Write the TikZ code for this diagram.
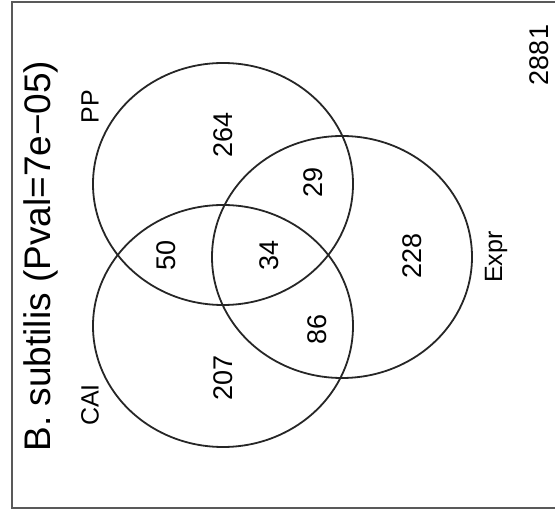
\documentclass[tikz,border=0pt]{standalone}
\usepackage{fontspec}
\setmainfont{Liberation Sans}
\usepackage{xcolor}
\usepackage{tikz}
\usetikzlibrary{shapes.geometric}

\tikzset{
  vennset/.style={ellipse, draw=black!85, line width=1.8pt, inner sep=0pt,
    minimum width=260pt, minimum height=242pt},
  countlbl/.style={rotate=90, font=\fontsize{27}{27}\selectfont, inner sep=0pt},
  setlbl/.style={rotate=90, font=\fontsize{25}{25}\selectfont, inner sep=0pt},
}

\begin{document}
\begin{tikzpicture}[x=1pt, y=-1pt]
  \useasboundingbox (0,0) rectangle (555,518);
  % plot frame (right side runs off the page)
  \draw[black!65, line width=2pt] (555,2) -- (12,2) -- (12,508) -- (555,508);
  % the three sets, rotated layout: PP top, CAI bottom, Expr right
  \node[vennset] (pp) at (223,184) {};
  \node[vennset] (cai) at (223,326) {};
  \node[vennset] (expr) at (342,257) {};
  % title
  \node[rotate=90, font=\fontsize{37}{37}\selectfont, inner sep=0pt] (title) at (41,256)
    {B. subtilis (Pval=7e\textminus05)};
  % set names
  \node[setlbl] (pplbl) at (90,107) {PP};
  \node[setlbl] (cailbl) at (90,405) {CAI};
  \node[setlbl] (exprlbl) at (496,257) {Expr};
  % region counts
  \foreach \nm/\x/\y/\val in {n264/223/135/264, n29/313/182/29, n50/166/255/50,
                              n34/269/255/34, n228/412/256/228, n86/317/329/86,
                              n207/223/378/207, n2881/539/55/2881} {
    \node[countlbl] (\nm) at (\x,\y) {\val};
  }
\end{tikzpicture}
\end{document}
